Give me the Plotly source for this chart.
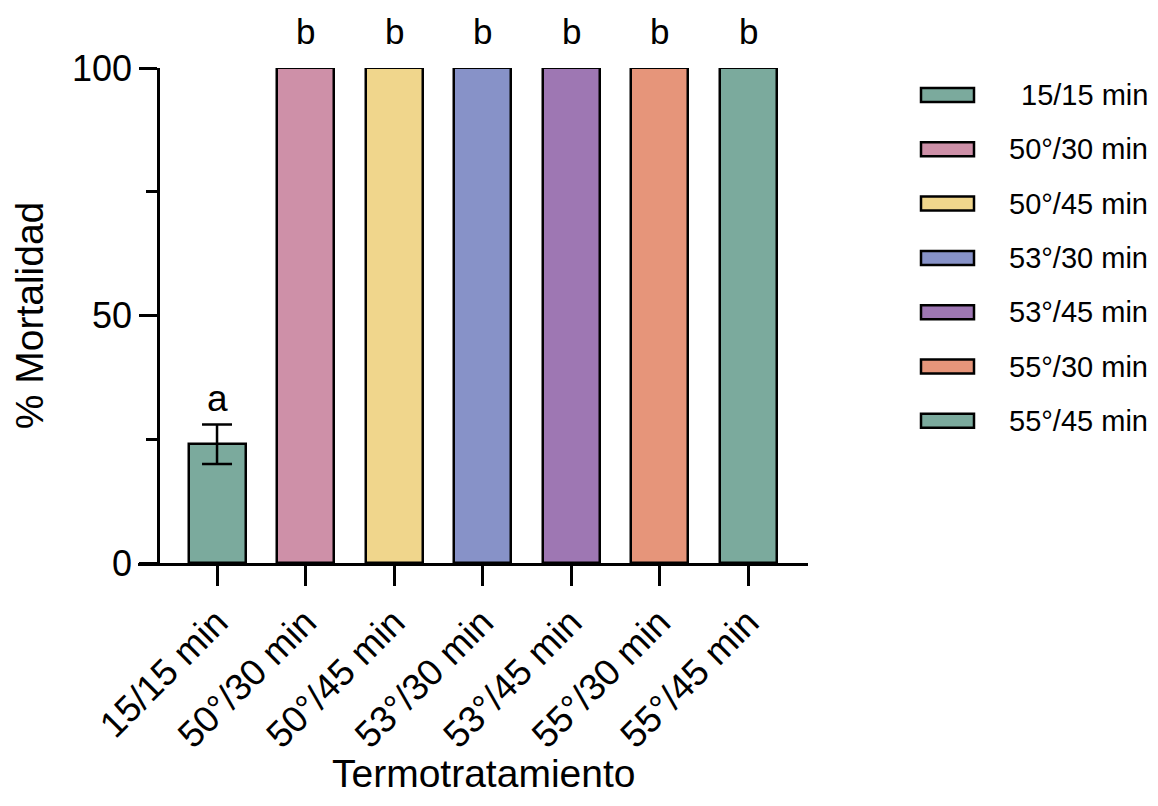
import plotly.graph_objects as go

# ---- data ----
categories = ["15/15 min", "50°/30 min", "50°/45 min", "53°/30 min",
              "53°/45 min", "55°/30 min", "55°/45 min"]
mortality = [24, 100, 100, 100, 100, 100, 100]
error = [4, 0, 0, 0, 0, 0, 0]
letters = ["a", "b", "b", "b", "b", "b", "b"]
colors = ["#7BAA9D", "#CE90A8", "#F0D68C", "#8792C8",
          "#9E77B3", "#E6957A", "#7BAA9D"]
y_ticks = [0, 50, 100]

FONT = "Liberation Sans, Arial, Helvetica, sans-serif"

# page body has an 8px margin: work in figure coordinates = reference - 8
O = 8
FW, FH = 1158 - 2 * O, 806 - 2 * O
L, T, W, H = 138 - O, 68 - O, 670, 495

def px(x):
    return (x - O - L) / W
def py(y):
    return (T + H - (y - O)) / H

fig = go.Figure()
xs = list(range(len(categories)))
for i, cat in enumerate(categories):
    fig.add_trace(go.Bar(
        x=[xs[i]], y=[mortality[i]], name=cat, width=0.644,
        marker=dict(color=colors[i], line=dict(color="black", width=2.5)),
        error_y=dict(type="data", array=[error[i]], visible=error[i] > 0,
                     color="black", thickness=2.5, width=15),
        showlegend=False,
    ))

# significance letters
for i, lt in enumerate(letters):
    top = mortality[i] + error[i]
    fig.add_annotation(x=xs[i], y=top, text=lt, showarrow=False,
                       yanchor="bottom", yshift=15 if lt == "b" else 3,
                       font=dict(family=FONT, size=35 if lt == "b" else 37, color="black"))

# manual legend (larger swatches, right-aligned labels)
for i, cat in enumerate(categories):
    yc = 95 + 54.3 * i
    fig.add_shape(type="rect", xref="paper", yref="paper",
                  x0=px(921), x1=px(974), y0=py(yc + 7), y1=py(yc - 7),
                  fillcolor=colors[i], line=dict(color="black", width=2.5))
    fig.add_annotation(xref="paper", yref="paper", x=px(1150), y=py(yc),
                       text=cat, showarrow=False, xanchor="right", yanchor="middle",
                       font=dict(family=FONT, size=29, color="black"))

# x-axis title (kept fully inside the figure)
fig.add_annotation(xref="paper", yref="paper", x=px(483), y=py(798),
                   text="Termotratamiento", showarrow=False,
                   xanchor="center", yanchor="bottom", yshift=1,
                   font=dict(family=FONT, size=39, color="black"))

fig.update_layout(
    width=FW, height=FH,
    margin=dict(l=L, r=FW - (L + W), t=T, b=FH - (T + H)),
    paper_bgcolor="white", plot_bgcolor="white",
    font=dict(family=FONT, color="black"),
    bargap=0,
    xaxis=dict(
        range=[-0.893, 6.678], tickmode="array", tickvals=xs, ticktext=categories,
        tickangle=-45, ticks="outside", ticklen=20, tickwidth=2.5, tickcolor="black",
        showline=True, linecolor="black", linewidth=2.5, showgrid=False, zeroline=False,
        tickfont=dict(family=FONT, size=37, color="black"),
    ),
    yaxis=dict(
        range=[0, 100], tickmode="array", tickvals=y_ticks,
        anchor="free", position=20 / W,
        ticks="outside", ticklen=18, tickwidth=2.5, tickcolor="black",
        minor=dict(tickvals=[25, 75], ticks="outside", ticklen=11, tickwidth=2.5,
                   tickcolor="black", showgrid=False),
        showline=True, linecolor="black", linewidth=2.5, showgrid=False, zeroline=False,
        tickfont=dict(family=FONT, size=36, color="black"),
        title=dict(text="% Mortalidad", font=dict(family=FONT, size=39, color="black"),
                   standoff=22),
    ),
)

fig.write_html("out.html")
